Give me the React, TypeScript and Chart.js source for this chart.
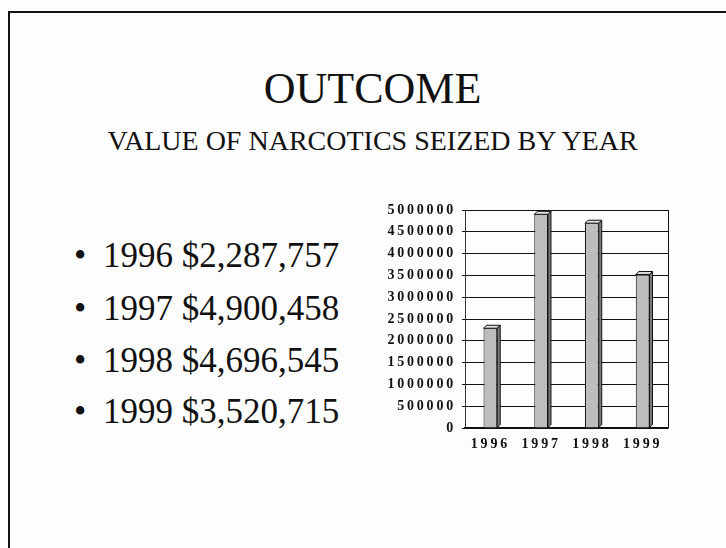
import React, { useEffect, useRef } from "react";
import { Chart, registerables } from "chart.js";

Chart.register(...registerables);

const categories = ["1996", "1997", "1998", "1999"];
const values = [2287757, 4900458, 4696545, 3520715];
const yMax = 5000000;
const yStep = 500000;
const titleText = "OUTCOME";
const subtitleText = "VALUE OF NARCOTICS SEIZED BY YEAR";
const bulletBaselines = [267, 320, 372, 423];

const serif = '"Liberation Serif", "Times New Roman", serif';

const bar3d = {
  id: "bar3d",
  beforeDraw(chart: any) {
    (chart.ctx as any).letterSpacing = "2.8px";
  },
  beforeDatasetsDraw(chart: any) {
    const { ctx, chartArea } = chart;
    ctx.save();
    ctx.strokeStyle = "#111";
    ctx.lineWidth = 1;
    ctx.beginPath();
    ctx.moveTo(Math.round(chartArea.right) + 0.5, chartArea.top);
    ctx.lineTo(Math.round(chartArea.right) + 0.5, chartArea.bottom);
    ctx.stroke();
    ctx.restore();
  },
  afterDatasetsDraw(chart: any) {
    const { ctx } = chart;
    const meta = chart.getDatasetMeta(0);
    const d = 3;
    ctx.save();
    ctx.strokeStyle = "#111";
    ctx.lineWidth = 1;
    meta.data.forEach((bar: any) => {
      const { x, y, base, width } = bar.getProps(["x", "y", "base", "width"], true);
      const l = x - width / 2;
      const r = x + width / 2;
      ctx.beginPath();
      ctx.moveTo(l, y);
      ctx.lineTo(l + d, y - d);
      ctx.lineTo(r + d, y - d);
      ctx.lineTo(r, y);
      ctx.closePath();
      ctx.fillStyle = "#dcdcdc";
      ctx.fill();
      ctx.stroke();
      ctx.beginPath();
      ctx.moveTo(r, y);
      ctx.lineTo(r + d, y - d);
      ctx.lineTo(r + d, base - d);
      ctx.lineTo(r, base);
      ctx.closePath();
      ctx.fillStyle = "#7a7a7a";
      ctx.fill();
      ctx.stroke();
    });
    ctx.restore();
  },
};

function BarChart() {
  const ref = useRef<HTMLCanvasElement | null>(null);
  useEffect(() => {
    if (!ref.current) return;
    const chart = new Chart(ref.current, {
      type: "bar",
      data: {
        labels: categories,
        datasets: [
          {
            data: values,
            backgroundColor: "#bdbdbd",
            borderColor: "#111",
            borderWidth: 1,
            categoryPercentage: 1,
            barPercentage: 0.27,
          },
        ],
      },
      options: {
        animation: false,
        responsive: false,
        events: [],
        layout: { padding: { top: 15, right: 12, left: 0, bottom: 0 } },
        plugins: { legend: { display: false }, tooltip: { enabled: false } },
        scales: {
          x: {
            grid: { display: false },
            border: { display: true, color: "#111", width: 1.5 },
            ticks: {
              color: "#111",
              padding: 0,
              font: { family: serif, weight: "bold", size: 14 },
              maxRotation: 0,
            },
            afterFit: (s: any) => {
              s.height = 42;
            },
          },
          y: {
            min: 0,
            max: yMax,
            grid: { color: "#111", lineWidth: 1, drawTicks: true, tickLength: 3 },
            border: { display: true, color: "#333", width: 1 },
            ticks: {
              stepSize: yStep,
              color: "#111",
              padding: 6,
              font: { family: serif, weight: "bold", size: 14 },
              callback: (v: any) => String(v),
            },
            afterFit: (s: any) => {
              s.width = 95;
            },
          },
        },
      },
      plugins: [bar3d],
    });
    return () => chart.destroy();
  }, []);
  return (
    <canvas
      ref={ref}
      width={310}
      height={275}
      style={{ position: "absolute", left: 370, top: 195, width: 310, height: 275 }}
    />
  );
}

export default function App() {
  const fmt = (v: number) => "$" + v.toLocaleString("en-US");
  return (
    <div
      style={{
        position: "fixed",
        left: 0,
        top: 0,
        width: 726,
        height: 548,
        background: "#fdfdfd",
        overflow: "hidden",
        fontFamily: serif,
        color: "#111",
      }}
    >
      <div style={{ position: "absolute", left: 8, top: 12, width: 2, height: 540, background: "#111" }} />
      <div style={{ position: "absolute", left: 8, top: 11, width: 720, height: 2, background: "#111" }} />
      <div
        style={{
          position: "absolute",
          left: 0,
          width: 745,
          top: 105 - 44 * 0.891,
          fontSize: 44,
          lineHeight: "44px",
          textAlign: "center",
          whiteSpace: "nowrap",
        }}
      >
        <span style={{ display: "inline-block", lineHeight: "normal", marginTop: -(44 * 1.149 - 44) / 2 }}>{titleText}</span>
      </div>
      <div
        style={{
          position: "absolute",
          left: 0,
          width: 745,
          top: 151 - 28 * 0.891 - (28 * 1.149 - 28 * 1.107) / 2,
          fontSize: 28,
          lineHeight: "normal",
          textAlign: "center",
          whiteSpace: "nowrap",
        }}
      >
        {subtitleText}
      </div>
      {categories.map((c, i) => (
        <div
          key={c}
          style={{
            position: "absolute",
            left: 74,
            top: bulletBaselines[i] - 35 * 0.891,
            fontSize: 35,
            lineHeight: "normal",
            whiteSpace: "nowrap",
          }}
        >
          <span style={{ display: "inline-block", width: 29 }}>•</span>
          {c + " " + fmt(values[i])}
        </div>
      ))}
      <BarChart />
    </div>
  );
}
